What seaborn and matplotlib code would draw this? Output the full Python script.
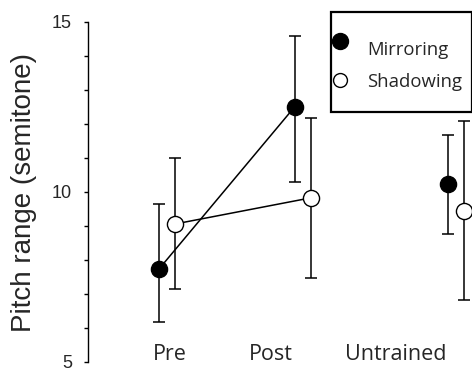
import numpy as np
import pandas as pd
import matplotlib.pyplot as plt
import seaborn as sns
from matplotlib.lines import Line2D
from matplotlib.patches import Rectangle

# === Datos (media y barras de error) ===
sessions = ["Pre", "Post", "Untrained"]
conditions = ["Mirroring", "Shadowing"]
mirroring_mean = [7.73, 12.51, 10.24]
mirroring_low = [6.19, 10.30, 8.77]
mirroring_high = [9.65, 14.59, 11.67]
shadowing_mean = [9.06, 9.83, 9.45]
shadowing_low = [7.14, 7.48, 6.81]
shadowing_high = [10.99, 12.19, 12.09]

# posiciones de grupo en el eje x (escala de datos)
session_pos = [0.0, 1.0, 2.125]
offsets = {"Mirroring": -0.06, "Shadowing": 0.06}
label_pos = [0.02, 0.76, 1.68]

rows = []
for c, m, lo, hi in [("Mirroring", mirroring_mean, mirroring_low, mirroring_high),
                     ("Shadowing", shadowing_mean, shadowing_low, shadowing_high)]:
    for i, s in enumerate(sessions):
        rows.append({"session": s, "condition": c, "mean": m[i], "low": lo[i],
                     "high": hi[i], "x": session_pos[i] + offsets[c]})
df = pd.DataFrame(rows)

sns.set_style("white")
plt.rcParams["font.family"] = ["Liberation Sans", "DejaVu Sans"]

fig = plt.figure(figsize=(4.72, 3.68), dpi=100)
ax = fig.add_axes([88 / 472, 6 / 368, 1 - 88 / 472, 340 / 368])

face = {"Mirroring": "black", "Shadowing": "white"}
for c in conditions:
    sub = df[df["condition"] == c]
    ax.errorbar(sub["x"], sub["mean"], yerr=[sub["mean"] - sub["low"], sub["high"] - sub["mean"]],
                fmt="none", ecolor="black", elinewidth=1.1, capsize=4.5, capthick=1.1, zorder=2)
    trained = sub[sub["session"] != "Untrained"]
    sns.lineplot(data=trained, x="x", y="mean", color="black", linewidth=1.1, ax=ax,
                 legend=False, zorder=3)
    sns.scatterplot(data=sub, x="x", y="mean", marker="o", s=135, color=face[c],
                    edgecolor="black", linewidth=1.0, ax=ax, legend=False, zorder=4)

ax.set_xlim(-0.581, 2.243)
ax.set_ylim(5, 15)
ax.set_yticks([5, 10, 15])
ax.set_yticks(np.arange(5, 16, 1), minor=True)
ax.set_xticks([])
ax.tick_params(axis="y", which="both", direction="out", length=3, width=1, color="black",
               labelsize=13, left=True, pad=8.5)
for sp in ["top", "right", "bottom"]:
    ax.spines[sp].set_visible(False)
ax.spines["left"].set_color("black")
ax.spines["left"].set_linewidth(1)
ax.set_xlabel("")
ax.set_ylabel("Pitch range (semitone)", fontsize=20)
ax.yaxis.set_label_coords(-0.133, 0.5)

for p, s in zip(label_pos, sessions):
    ax.text(p, 5.06, s, ha="center", va="baseline", fontsize=15.5,
            family=["Open Sans", "DejaVu Sans"])

# === Leyenda ===
fig.add_artist(Rectangle((331 / 472, 1 - 112 / 368), 141 / 472, 100 / 368,
                         transform=fig.transFigure, fill=False, edgecolor="black", linewidth=1.6))
for yy, ms, c in [(40.5, 11.5, "Mirroring"), (79.5, 10, "Shadowing")]:
    fig.add_artist(Line2D([340 / 472], [1 - yy / 368], transform=fig.transFigure, marker="o",
                          markersize=ms, markerfacecolor=face[c], markeredgecolor="black",
                          linestyle="none"))
for yy, c in [(55, "Mirroring"), (87, "Shadowing")]:
    fig.text(367 / 472, 1 - yy / 368, c, ha="left", va="baseline", fontsize=13.3,
             family=["Open Sans", "DejaVu Sans"])

fig.savefig("out.png", dpi=100)
